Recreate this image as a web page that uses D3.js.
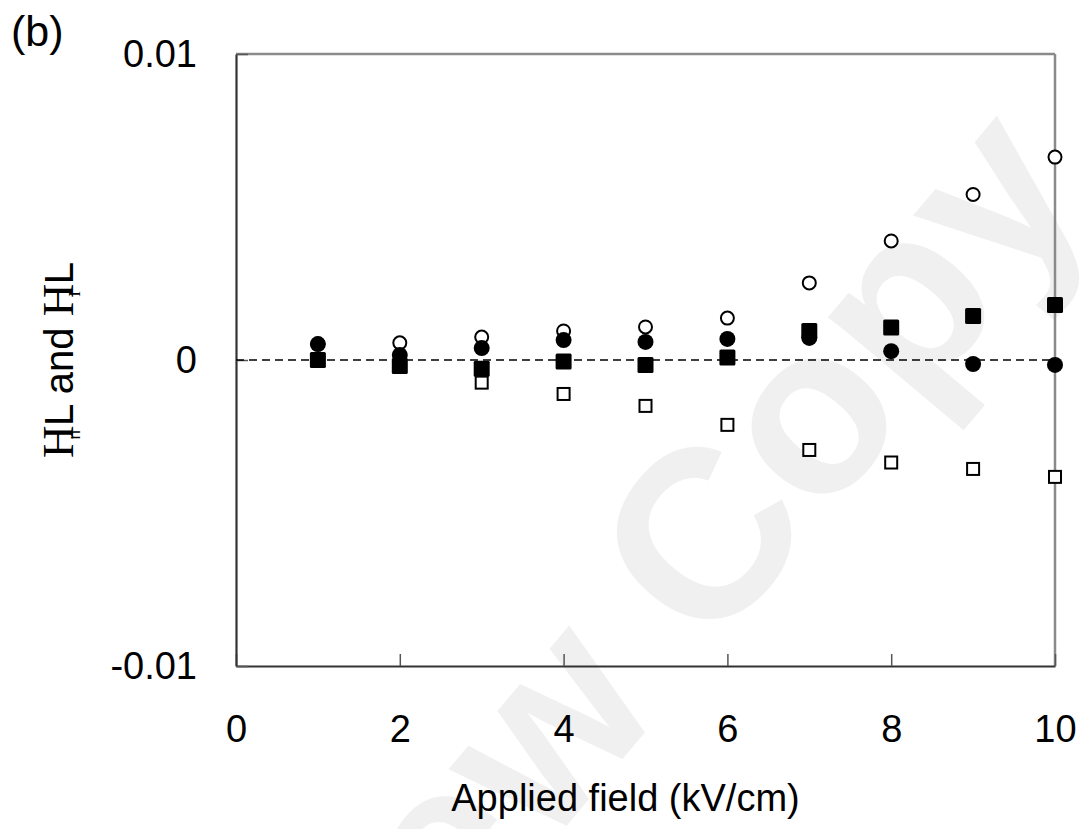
<!DOCTYPE html>
<html>
<head>
<meta charset="utf-8">
<script src="https://cdn.jsdelivr.net/npm/d3@7"></script>
<style>
  body { margin: 0; background: #fff; }
  text { font-family: "Liberation Sans", Arial, sans-serif; }
</style>
</head>
<body>
<svg id="chart"></svg>
<script>
const margin = {top: 54, right: 28, bottom: 163, left: 236},
    svgWidth = 1083,
    svgHeight = 829,
    width = svgWidth - margin.left - margin.right,
    height = svgHeight - margin.top - margin.bottom;

// applied field (kV/cm)
const fieldValues = [1, 2, 3, 4, 5, 6, 7, 8, 9, 10];
const openCircleValues   = [0.00052, 0.00056, 0.00075, 0.00095, 0.00108, 0.00137, 0.00252, 0.00389, 0.00541, 0.00663];
const filledCircleValues = [0.00052, 0.00016, 0.00039, 0.00065, 0.00059, 0.00069, 0.00072, 0.00029, -0.00013, -0.00016];
const filledSquareValues = [0.0, -0.0002, -0.00029, -0.00005, -0.00016, 0.00008, 0.00095, 0.00106, 0.00144, 0.0018];
const openSquareValues   = [0.0, -0.0002, -0.00074, -0.00111, -0.0015, -0.00212, -0.00294, -0.00335, -0.00356, -0.00382];

const xTickValues = [0, 2, 4, 6, 8, 10];
const yTickValues = [-0.01, 0, 0.01];
const yTickLabels = ["-0.01", "0", "0.01"];

const chart = d3.select("#chart")
    .attr("width", svgWidth)
    .attr("height", svgHeight);

// watermark behind everything
const wm = chart.append("g")
    .attr("transform", "translate(709,656) rotate(-50)")
    .style("fill", "#f0f0f0")
    .style("font-weight", "bold")
    .style("font-size", "240px");
wm.append("text").attr("x", -67).attr("text-anchor", "end").text("Review");
wm.append("text").attr("x", 0).attr("text-anchor", "start").text("Copy");

const g = chart.append("g").attr("transform", `translate(${margin.left},${margin.top})`);

var xScale = d3.scaleLinear().domain([0, 10]).range([0, width]);
var yScale = d3.scaleLinear().domain([-0.01, 0.01]).range([height, 0]);

// top and right frame (grey)
g.append("line").attr("x1", 0).attr("x2", width).attr("y1", 0).attr("y2", 0)
    .style("stroke", "#8a8a8a").style("stroke-width", 2.5);
g.append("line").attr("x1", width).attr("x2", width).attr("y1", 0).attr("y2", height)
    .style("stroke", "#8a8a8a").style("stroke-width", 2.5);

// x axis
const xAxis = d3.axisBottom(xScale).tickValues(xTickValues).tickSizeInner(-12).tickSizeOuter(0).tickPadding(49);
const gx = g.append("g").attr("transform", "translate(0," + height + ")").call(xAxis);

// y axis
const yAxis = d3.axisLeft(yScale).tickValues(yTickValues)
    .tickFormat((d, i) => yTickLabels[i]).tickSizeInner(-12).tickSizeOuter(0).tickPadding(39);
const gy = g.append("g").call(yAxis);

[gx, gy].forEach(a => {
    a.select(".domain").style("stroke", "#333").style("stroke-width", 2.2);
    a.selectAll(".tick line").style("stroke", "#555").style("stroke-width", 1.5);
    a.selectAll(".tick text").style("font-size", "38px").style("fill", "#000")
        .style("font-family", "'Liberation Sans', Arial, sans-serif");
});

// zero line
g.append("line")
    .attr("x1", 0).attr("x2", width)
    .attr("y1", yScale(0)).attr("y2", yScale(0))
    .style("stroke", "#000").style("stroke-width", 1.3)
    .style("stroke-dasharray", "8,5");

function pts(values) {
    return values.map((v, i) => ({x: fieldValues[i], y: v}));
}

// open squares
g.append("g").selectAll("rect").data(pts(openSquareValues)).enter().append("rect")
    .attr("x", d => xScale(d.x) - 6).attr("y", d => yScale(d.y) - 6)
    .attr("width", 12).attr("height", 12)
    .style("fill", "#fff").style("stroke", "#000").style("stroke-width", 2);

// open circles
g.append("g").selectAll("circle").data(pts(openCircleValues)).enter().append("circle")
    .attr("cx", d => xScale(d.x)).attr("cy", d => yScale(d.y)).attr("r", 6.5)
    .style("fill", "#fff").style("stroke", "#000").style("stroke-width", 2);

// filled squares
g.append("g").selectAll("rect").data(pts(filledSquareValues)).enter().append("rect")
    .attr("x", d => xScale(d.x) - 8).attr("y", d => yScale(d.y) - 8)
    .attr("width", 16).attr("height", 16).attr("rx", 1.5)
    .style("fill", "#000");

// filled circles
g.append("g").selectAll("circle").data(pts(filledCircleValues)).enter().append("circle")
    .attr("cx", d => xScale(d.x)).attr("cy", d => yScale(d.y)).attr("r", 8)
    .style("fill", "#000");

// x title
chart.append("text")
    .attr("x", margin.left + width / 2 - 20)
    .attr("y", 811)
    .style("text-anchor", "middle")
    .style("font-size", "38px")
    .text("Applied field (kV/cm)");

// y title: serif H with small subscripts, as in the original
const yt = chart.append("text")
    .attr("transform", "translate(73,360) rotate(-90)")
    .style("text-anchor", "middle")
    .style("font-size", "40px");
yt.append("tspan").style("font-family", "'Liberation Serif', 'Times New Roman', serif").style("font-size", "45px").text("H");
yt.append("tspan").attr("dx", -14).attr("dy", 7).style("font-size", "17px").text("n");
yt.append("tspan").attr("dx", 4).attr("dy", -7).text("L and ");
yt.append("tspan").style("font-family", "'Liberation Serif', 'Times New Roman', serif").style("font-size", "45px").text("H");
yt.append("tspan").attr("dx", -13).attr("dy", 7).style("font-family", "'Liberation Serif', serif").style("font-size", "17px").text("I");
yt.append("tspan").attr("dx", 7).attr("dy", -7).text("L");

// panel label
chart.append("text")
    .attr("x", 11).attr("y", 46)
    .style("font-size", "43px")
    .text("(b)");
</script>
</body>
</html>
